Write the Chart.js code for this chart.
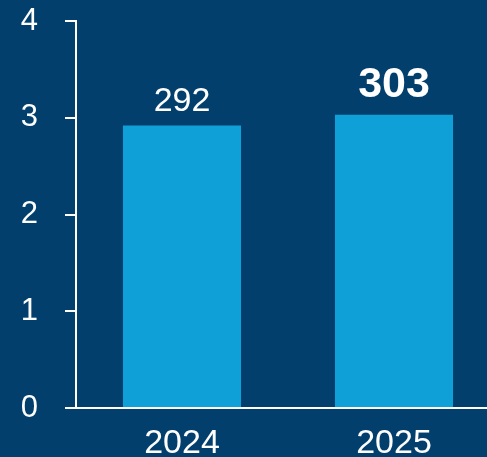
<!DOCTYPE html>
<html>
<head>
<meta charset="utf-8">
<script src="https://cdn.jsdelivr.net/npm/chart.js@4/dist/chart.umd.min.js"></script>
<style>
  html, body { margin: 0; padding: 0; background: #023f6d; overflow: hidden; }
  #wrap { width: 500px; height: 457px; }
</style>
</head>
<body>
<div id="wrap"><canvas id="c" width="500" height="457"></canvas></div>
<script>
// Yearly figures (in hundreds on the axis)
const years = ['2024', '2025'];
const values = [292, 303];
const valueLabels = ['292', '303'];
const highlight = [false, true];
const yTicks = [0, 100, 200, 300, 400];

const WHITE = '#ffffff';
const BAR = '#10a0d8';
const FONT = '"Liberation Sans", Arial, Helvetica, sans-serif';

// Draws the value above each bar; the latest year is emphasised
const valueLabelPlugin = {
  id: 'valueLabels',
  afterDatasetsDraw(chart) {
    const ctx = chart.ctx;
    const meta = chart.getDatasetMeta(0);
    meta.data.forEach((bar, i) => {
      ctx.save();
      ctx.fillStyle = WHITE;
      ctx.textAlign = 'center';
      ctx.textBaseline = 'alphabetic';
      if (highlight[i]) {
        ctx.font = 'bold 43px ' + FONT;
        ctx.fillText(valueLabels[i], bar.x, bar.y - 18);
      } else {
        ctx.font = '34px ' + FONT;
        ctx.fillText(valueLabels[i], bar.x, bar.y - 14);
      }
      ctx.restore();
    });
  }
};

new Chart(document.getElementById('c'), {
  type: 'bar',
  data: {
    labels: years,
    datasets: [{
      data: values,
      backgroundColor: BAR,
      borderWidth: 0,
      categoryPercentage: 1,
      barPercentage: 0.557
    }]
  },
  options: {
    responsive: false,
    animation: false,
    devicePixelRatio: 1,
    layout: { padding: 0 },
    plugins: {
      legend: { display: false },
      tooltip: { enabled: false }
    },
    scales: {
      x: {
        grid: { display: true, drawOnChartArea: false, drawTicks: false },
        border: { display: true, color: WHITE, width: 2 },
        ticks: {
          color: WHITE,
          padding: 15,
          font: { family: FONT, size: 34 }
        },
        afterFit(scale) { scale.height = 49; scale.paddingLeft = 0; scale.paddingRight = 0; }
      },
      y: {
        min: 0,
        max: 400,
        afterBuildTicks(scale) { scale.ticks = yTicks.map(v => ({ value: v })); },
        grid: {
          display: true,
          drawOnChartArea: false,
          drawTicks: true,
          tickLength: 11,
          color: WHITE,
          lineWidth: 2
        },
        border: { display: true, color: WHITE, width: 2 },
        ticks: {
          color: WHITE,
          padding: 27,
          font: { family: FONT, size: 31 },
          callback: v => String(v / 100)
        },
        afterFit(scale) { scale.width = 76; scale.paddingTop = 21; scale.paddingBottom = 0; }
      }
    }
  },
  plugins: [valueLabelPlugin]
});
</script>
</body>
</html>
